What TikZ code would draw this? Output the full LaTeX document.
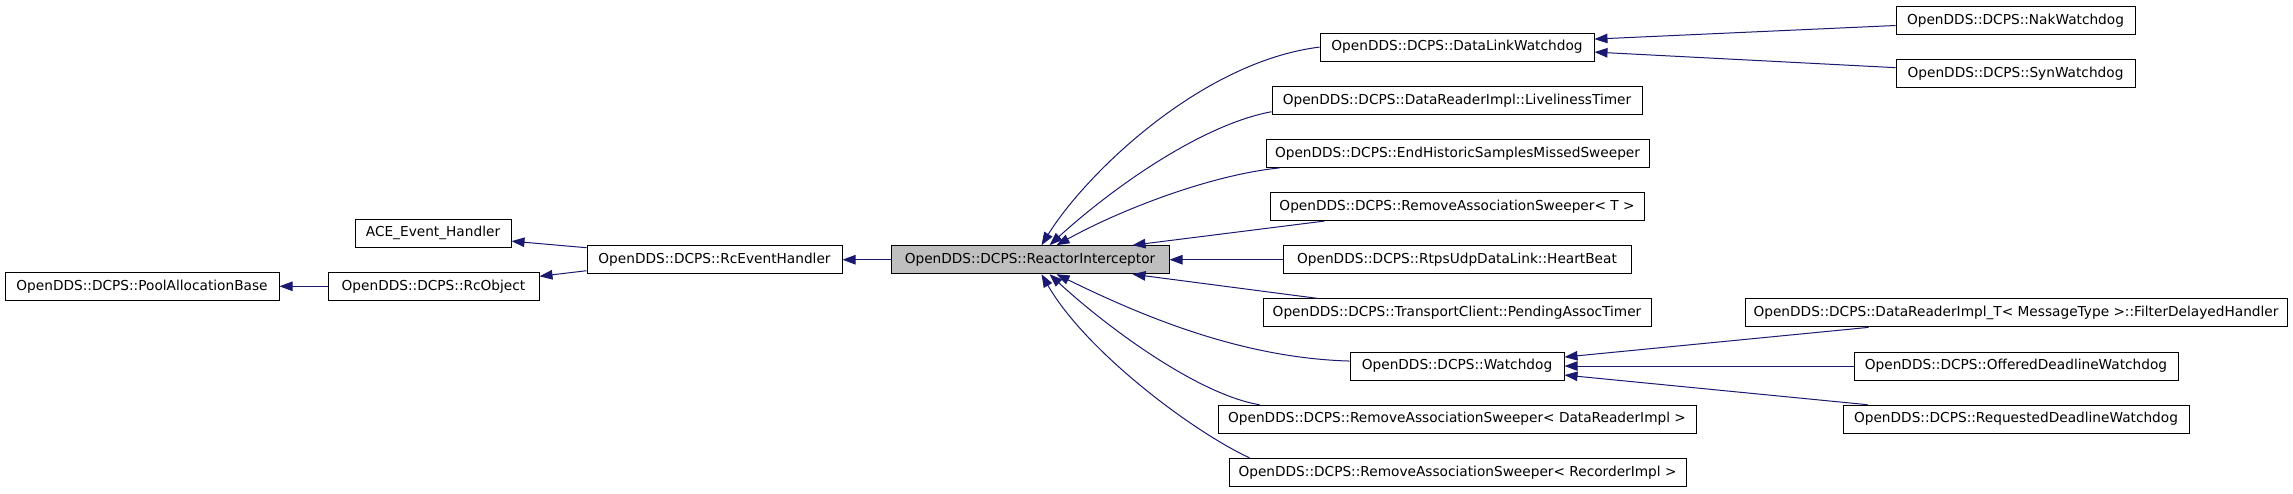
\documentclass[tikz,border=0pt]{standalone}
\usepackage{fontspec}
\setmainfont{DejaVu Sans}
\usetikzlibrary{arrows.meta,calc}
\definecolor{edgeblue}{HTML}{191970}
\definecolor{rigray}{HTML}{BFBFBF}
\tikzset{
  cls/.style={draw=black, line width=1pt, fill=white, inner sep=0pt, minimum height=28pt,
    font=\fontsize{13.7}{16}\selectfont, text=black},
  hl/.style={cls, fill=rigray},
  inh/.style={draw=edgeblue, line width=1pt, -{Triangle[length=13pt,width=9.5pt]}, edgeblue}
}
\newcommand{\clsnode}[6][cls]{% style, name, x1, x2, row, text
  \node[#1, minimum width={#4-#3}] (#2) at ({(#3+#4)/2},{20.5+26.58*#5}) {#6};}
\begin{document}
\begin{tikzpicture}[x=1pt,y=-1pt]
\fill[white] (0,0) rectangle (2293,493);
\useasboundingbox (0,0) rectangle (2293,493);
\clsnode{pab}{5}{279}{10}{OpenDDS::DCPS::PoolAllocationBase}
\clsnode{rco}{328}{539}{10}{OpenDDS::DCPS::RcObject}
\clsnode{ace}{355}{511}{8}{ACE\_Event\_Handler}
\clsnode{reh}{587}{842}{9}{OpenDDS::DCPS::RcEventHandler}
\clsnode[hl]{ri}{891}{1169}{9}{OpenDDS::DCPS::ReactorInterceptor}
\clsnode{dlw}{1320}{1594}{1}{OpenDDS::DCPS::DataLinkWatchdog}
\clsnode{nak}{1896}{2135}{0}{OpenDDS::DCPS::NakWatchdog}
\clsnode{syn}{1896}{2135}{2}{OpenDDS::DCPS::SynWatchdog}
\clsnode{lt}{1272}{1642}{3}{OpenDDS::DCPS::DataReaderImpl::LivelinessTimer}
\clsnode{ehs}{1266}{1649}{5}{OpenDDS::DCPS::EndHistoricSamplesMissedSweeper}
\clsnode{rast}{1270}{1644}{7}{OpenDDS::DCPS::RemoveAssociationSweeper< T >}
\clsnode{hb}{1283}{1631}{9}{OpenDDS::DCPS::RtpsUdpDataLink::HeartBeat}
\clsnode{pat}{1263}{1651}{11}{OpenDDS::DCPS::TransportClient::PendingAssocTimer}
\clsnode{fdh}{1745}{2287}{11}{OpenDDS::DCPS::DataReaderImpl\_T< MessageType >::FilterDelayedHandler}
\clsnode{wd}{1350}{1564}{13}{OpenDDS::DCPS::Watchdog}
\clsnode{odw}{1854}{2178}{13}{OpenDDS::DCPS::OfferedDeadlineWatchdog}
\clsnode{rdw}{1843}{2189}{15}{OpenDDS::DCPS::RequestedDeadlineWatchdog}
\clsnode{rad}{1218}{1696}{15}{OpenDDS::DCPS::RemoveAssociationSweeper< DataReaderImpl >}
\clsnode{rar}{1229}{1686}{17}{OpenDDS::DCPS::RemoveAssociationSweeper< RecorderImpl >}
% left part
\draw[inh] (rco.west) -- (pab.east);
\draw[inh] ($(reh.west)+(0,-12)$) -- ($(ace.east)+(0,8)$);
\draw[inh] ($(reh.west)+(0,11)$) -- ($(rco.east)+(0,-10)$);
\draw[inh] (ri.west) -- (reh.east);
% children of ReactorInterceptor
\draw[inh] (dlw.west) .. controls (1200,62) and (1085,175) .. ($(ri.north west)+(151,0)$);
\draw[inh] ($(lt.south west)+(0,-3)$) .. controls (1200,125) and (1110,190) .. ($(ri.north west)+(159,0)$);
\draw[inh] ($(ehs.south west)+(14,0)$) .. controls (1210,175) and (1120,210) .. ($(ri.north west)+(166,0)$);
\draw[inh] ($(rast.south west)+(55,0)$) -- ($(ri.north west)+(242,0)$);
\draw[inh] (hb.west) -- (ri.east);
\draw[inh] ($(pat.north west)+(55,0)$) -- ($(ri.south west)+(242,0)$);
\draw[inh] ($(wd.west)+(0,-5)$) .. controls (1240,358) and (1140,315) .. ($(ri.south west)+(166,0)$);
\draw[inh] ($(rad.north west)+(42,0)$) .. controls (1200,395) and (1110,330) .. ($(ri.south west)+(159,0)$);
\draw[inh] ($(rar.north west)+(21,0)$) .. controls (1190,430) and (1085,350) .. ($(ri.south west)+(151,0)$);
% DataLinkWatchdog children
\draw[inh] ($(nak.west)+(0,5)$) -- ($(dlw.east)+(0,-8)$);
\draw[inh] ($(syn.west)+(0,-6)$) -- ($(dlw.east)+(0,5)$);
% Watchdog children
\draw[inh] ($(fdh.south west)+(124,0)$) -- ($(wd.east)+(0,-9)$);
\draw[inh] (odw.west) -- (wd.east);
\draw[inh] ($(rdw.north west)+(25,0)$) -- ($(wd.east)+(0,9)$);
\end{tikzpicture}
\end{document}
